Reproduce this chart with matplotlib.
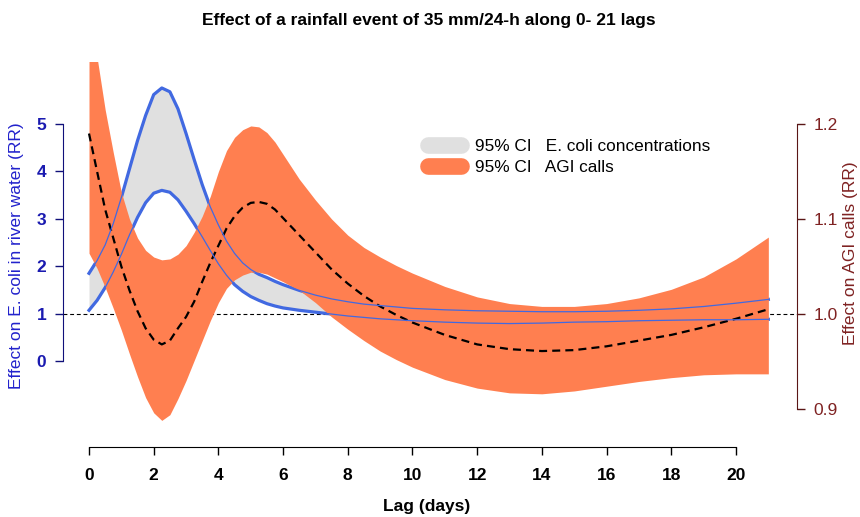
import matplotlib
matplotlib.use("Agg")
import matplotlib.pyplot as plt
from matplotlib.lines import Line2D

plt.rcParams['font.family'] = ['Liberation Sans', 'DejaVu Sans']

# lag grid (days)
lag = [0, 0.25, 0.5, 0.75, 1, 1.25, 1.5, 1.75, 2, 2.25, 2.5, 2.75, 3, 3.25,
       3.5, 3.75, 4, 4.25, 4.5, 4.75, 5, 5.25, 5.5, 5.75, 6, 6.5, 7, 7.5, 8,
       8.5, 9, 9.5, 10, 11, 12, 13, 14, 15, 16, 17, 18, 19, 20, 21]

# E. coli in river water, 95% CI (RR, left axis)
ecoli_hi = [1.85, 2.12, 2.45, 2.9, 3.45, 4.05, 4.65, 5.18, 5.62, 5.76, 5.68,
            5.32, 4.8, 4.25, 3.72, 3.25, 2.87, 2.53, 2.27, 2.07, 1.93, 1.83,
            1.76, 1.68, 1.61, 1.49, 1.39, 1.31, 1.25, 1.20, 1.17, 1.14, 1.11,
            1.08, 1.06, 1.05, 1.04, 1.04, 1.05, 1.07, 1.10, 1.15, 1.22, 1.30]
ecoli_lo = [1.07, 1.28, 1.55, 1.88, 2.25, 2.66, 3.03, 3.34, 3.54, 3.6, 3.56,
            3.4, 3.16, 2.9, 2.62, 2.33, 2.05, 1.81, 1.61, 1.47, 1.36, 1.28,
            1.21, 1.16, 1.12, 1.07, 1.03, 0.99, 0.95, 0.92, 0.89, 0.87, 0.85,
            0.82, 0.80, 0.79, 0.80, 0.82, 0.83, 0.85, 0.86, 0.87, 0.87, 0.88]

# AGI calls (RR, right axis)
agi_rr = [1.19, 1.15, 1.11, 1.08, 1.05, 1.025, 1.003, 0.985, 0.973, 0.968,
          0.972, 0.985, 0.997, 1.013, 1.034, 1.054, 1.072, 1.09, 1.103, 1.112,
          1.117, 1.118, 1.116, 1.11, 1.101, 1.083, 1.065, 1.047, 1.032, 1.019,
          1.008, 0.999, 0.991, 0.978, 0.968, 0.963, 0.961, 0.962, 0.966, 0.972,
          0.978, 0.986, 0.995, 1.005]
agi_hi = [1.33, 1.27, 1.215, 1.17, 1.128, 1.10, 1.08, 1.067, 1.06, 1.057,
          1.058, 1.063, 1.072, 1.086, 1.103, 1.124, 1.15, 1.172, 1.186, 1.194,
          1.198, 1.197, 1.191, 1.181, 1.168, 1.142, 1.12, 1.10, 1.083, 1.07,
          1.06, 1.051, 1.043, 1.029, 1.018, 1.011, 1.008, 1.008, 1.011, 1.017,
          1.026, 1.039, 1.058, 1.081]
agi_lo = [1.064, 1.048, 1.028, 1.006, 0.983, 0.958, 0.934, 0.912, 0.896, 0.888,
          0.894, 0.911, 0.93, 0.951, 0.972, 0.993, 1.012, 1.027, 1.036, 1.041,
          1.044, 1.044, 1.042, 1.038, 1.034, 1.025, 1.012, 0.997, 0.984, 0.972,
          0.961, 0.952, 0.944, 0.931, 0.922, 0.917, 0.916, 0.919, 0.924, 0.929,
          0.933, 0.936, 0.937, 0.937]

left_ticks = [0, 1, 2, 3, 4, 5]
right_ticks = [0.9, 1.0, 1.1, 1.2]
x_ticks = [0, 2, 4, 6, 8, 10, 12, 14, 16, 18, 20]

blue = '#4169E1'
gray = '#e0e0e0'
coral = '#FF7F50'
lcol = '#1a1ab0'
rcol = '#7f2222'

fig = plt.figure(figsize=(8.6, 5.17), dpi=100)
ax = fig.add_axes([63/860, 1-447/517, (797-63)/860, (447-62)/517])
ax2 = ax.twinx()

ax.axhline(1, color='black', lw=0.8, ls=(0, (3.5, 2.5)), zorder=1)
ax.fill_between(lag, ecoli_lo, ecoli_hi, color=gray, lw=0, zorder=2)
ax.plot(lag, ecoli_hi, color=blue, lw=2.3, zorder=3)
ax.plot(lag, ecoli_lo, color=blue, lw=2.3, zorder=3)

ax2.fill_between(lag, agi_lo, agi_hi, color=coral, lw=0, zorder=1)
ax2.plot(lag, agi_rr, color='black', lw=1.6, ls=(0, (3.6, 2.3)), zorder=2)
# thin E. coli bounds on top of everything
ax2.plot(lag, ecoli_hi, color=blue, lw=0.9, transform=ax.transData, zorder=3)
ax2.plot(lag, ecoli_lo, color=blue, lw=0.9, transform=ax.transData, zorder=3)

ax.set_xlim(-0.804, 21.886)
ax.set_ylim(-1.814, 6.308)
ax2.set_ylim(0.86, 1.2653)

for s in ['top', 'right']:
    ax.spines[s].set_visible(False)
for s in ['top', 'left', 'bottom']:
    ax2.spines[s].set_visible(False)
ax.spines['left'].set_bounds(0, 5)
ax.spines['left'].set_color('#10107a')
ax.spines['bottom'].set_bounds(0, 20)
ax2.spines['right'].set_bounds(0.9, 1.2)
ax2.spines['right'].set_color('#5a1616')

ax.set_xticks(x_ticks)
ax.set_xticklabels([str(t) for t in x_ticks], fontweight='bold')
ax.set_yticks(left_ticks)
ax.set_yticklabels([str(t) for t in left_ticks], fontweight='bold', color=lcol)
ax2.set_yticks(right_ticks)
ax2.set_yticklabels(['%.1f' % t for t in right_ticks], color=rcol)

ax.tick_params(axis='x', length=6, width=1, pad=9, labelsize=12.5)
ax.tick_params(axis='y', length=6, width=1, pad=6, labelsize=12.5, color='#10107a')
ax2.tick_params(axis='y', length=6, width=1, pad=6, labelsize=12.5, color='#5a1616')

fig.text(429/860, 1-20/517, 'Effect of a rainfall event of 35 mm/24-h along 0- 21 lags',
         ha='center', va='center', fontweight='bold', fontsize=12.5)
fig.text(427/860, 1-507/517, 'Lag (days)', ha='center', va='center',
         fontweight='bold', fontsize=12.5)
fig.text(17/860, 1-256/517, 'Effect on E. coli in river water (RR)', rotation=90,
         ha='center', va='center', color='#2222cc', fontsize=12.5)
fig.text(850/860, 1-253/517, 'Effect on AGI calls (RR)', rotation=90,
         ha='center', va='center', color=rcol, fontsize=12.5)

handles = [Line2D([], [], color=gray, lw=12, solid_capstyle='round'),
           Line2D([], [], color=coral, lw=12, solid_capstyle='round')]
labels = ['95% CI   E. coli concentrations', '95% CI   AGI calls']
leg = ax2.legend(handles, labels, loc='upper left', bbox_to_anchor=(428/860, 1-139/517),
                 bbox_transform=fig.transFigure, frameon=False, borderpad=0,
                 borderaxespad=0, handlelength=1.9, handletextpad=0.82,
                 labelspacing=0.32, fontsize=12.4)

fig.savefig('out.png', dpi=100)
